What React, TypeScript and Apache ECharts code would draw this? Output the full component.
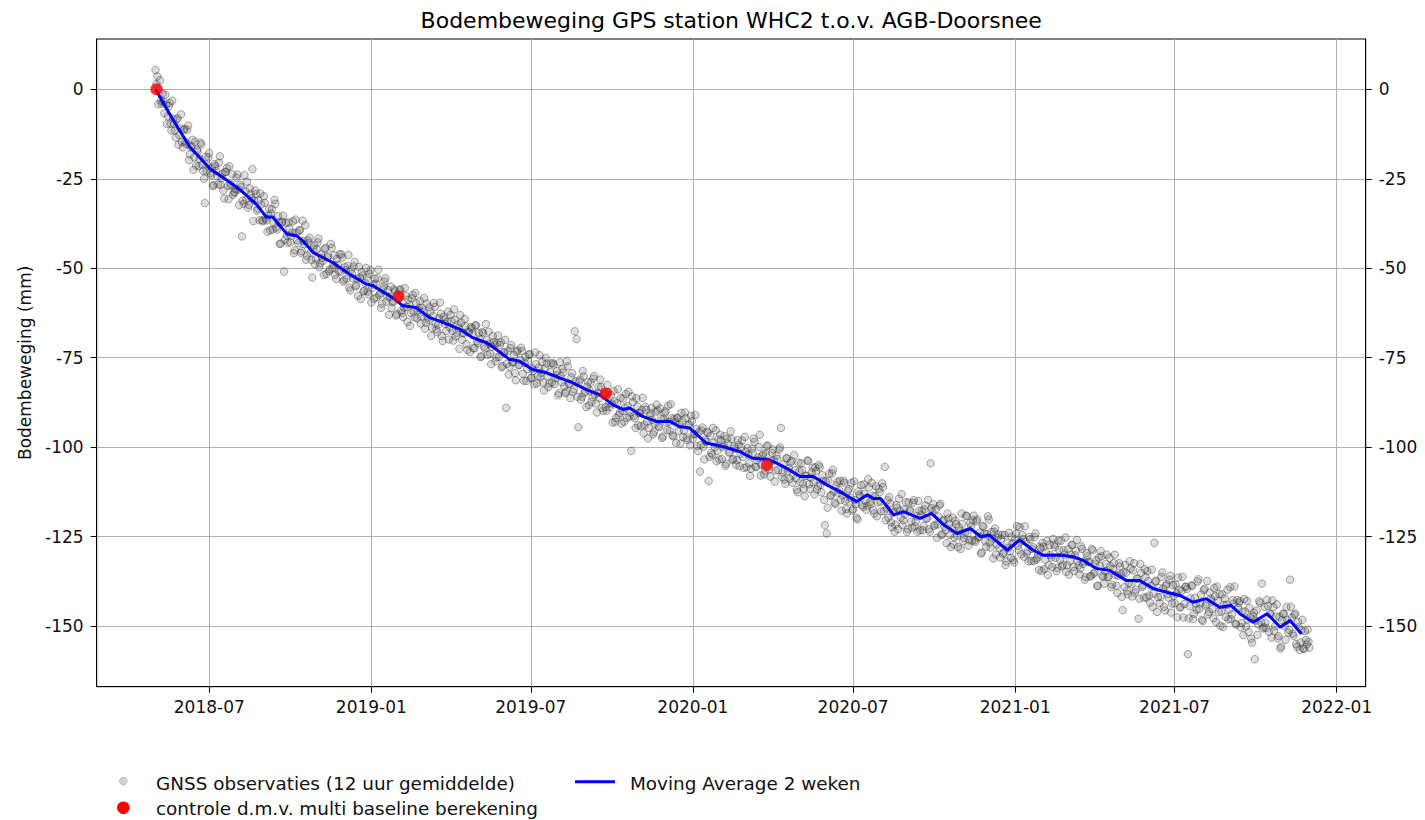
import React, { useEffect, useRef } from 'react';
import * as echarts from 'echarts';

const TITLE = 'Bodembeweging GPS station WHC2 t.o.v. AGB-Doorsnee';
const Y_NAME = 'Bodembeweging (mm)';
const NAME_OBS = 'GNSS observaties (12 uur gemiddelde)';
const NAME_CTRL = 'controle d.m.v. multi baseline berekening';
const NAME_MA = 'Moving Average 2 weken';

const xTickDates = ['2018-07-01', '2019-01-01', '2019-07-01', '2020-01-01', '2020-07-01', '2021-01-01', '2021-07-01', '2022-01-01'];
const yTicks = [-150, -125, -100, -75, -50, -25, 0];
const X_MIN = '2018-02-23T05:00:00Z';
const X_MAX = '2022-02-02T22:00:00Z';
const Y_MIN = -166.9;
const Y_MAX = 14.05;

// GNSS observations: series A every 2 days from obsStartA, series B every 2 days from obsStartB
const obsStepDays = 2;
const obsStartA = '2018-05-01';
const obsValuesA = [
  5.4, 3.6, 0.1, -3.2, -1.2, -6.7, -4.3, -7.5, -3.8, -11.5, -8.2, -11.5, -8.5, -15.5, -10.9,
  -14.7, -11.3, -14.7, -11.3, -19.8, -16.2, -14.1, -19.0, -21.3, -17.4, -19.4, -15.4, -22.8, -31.8, -22.9,
  -19.0, -23.4, -22.0, -26.8, -21.5, -24.3, -20.5, -26.7, -23.6, -30.5, -23.1, -27.0, -21.5, -26.6, -29.5,
  -28.8, -24.7, -28.0, -26.7, -41.1, -32.0, -28.5, -25.8, -32.3, -29.3, -22.3, -31.1, -29.3, -33.4, -36.6,
  -32.2, -36.9, -31.7, -36.6, -35.3, -39.4, -33.5, -37.3, -32.0, -39.2, -37.1, -43.1, -37.0, -50.9, -37.3,
  -42.8, -38.9, -40.9, -36.9, -45.0, -40.0, -43.0, -39.3, -45.2, -42.4, -38.0, -46.5, -42.9, -45.6, -52.6,
  -43.6, -47.5, -42.8, -49.7, -46.1, -47.9, -44.6, -51.6, -46.6, -50.3, -44.3, -49.0, -51.8, -47.4, -50.8,
  -51.0, -47.0, -53.2, -50.5, -49.3, -55.4, -50.4, -52.8, -48.2, -54.7, -57.7, -52.6, -51.1, -56.4, -54.1,
  -52.6, -57.3, -50.5, -55.5, -58.5, -54.3, -52.8, -57.5, -61.1, -56.0, -53.7, -59.3, -56.1, -58.1, -61.1,
  -59.2, -56.4, -62.8, -58.4, -55.9, -62.5, -61.0, -57.7, -65.0, -60.1, -62.5, -57.4, -63.7, -59.7, -61.6,
  -59.1, -63.5, -62.2, -66.9, -59.9, -64.5, -62.1, -66.7, -59.7, -65.5, -67.9, -64.0, -62.7, -70.3, -64.3,
  -67.5, -62.1, -66.5, -64.7, -70.2, -64.4, -68.0, -66.7, -63.1, -70.0, -68.2, -66.2, -72.8, -67.9, -66.4,
  -68.2, -72.4, -65.9, -70.9, -69.7, -74.6, -68.1, -72.4, -70.1, -67.7, -73.9, -72.0, -70.6, -76.0, -70.9,
  -74.8, -70.7, -77.3, -73.6, -89.0, -73.2, -77.5, -71.5, -76.3, -79.3, -73.4, -77.1, -75.6, -73.1, -81.4,
  -74.8, -78.2, -74.1, -80.7, -78.0, -82.4, -76.8, -80.1, -74.3, -79.2, -81.9, -78.0, -76.6, -83.2, -79.0,
  -82.0, -76.9, -80.7, -78.7, -84.9, -80.2, -78.1, -83.0, -84.5, -77.4, -82.4, -80.5, -84.5, -67.6, -69.8,
  -94.4, -81.1, -85.9, -80.2, -84.5, -83.1, -88.3, -82.0, -86.0, -80.1, -87.8, -84.8, -86.2, -83.2, -89.8,
  -85.1, -89.8, -84.6, -88.8, -87.8, -84.3, -92.9, -87.7, -91.0, -86.2, -89.9, -92.9, -85.1, -88.5, -91.4,
  -101.0, -87.4, -91.9, -86.3, -93.9, -90.5, -89.6, -96.1, -88.7, -92.8, -94.6, -90.5, -92.4, -95.8, -90.1,
  -89.7, -94.4, -92.0, -97.0, -90.5, -93.1, -88.4, -95.4, -91.9, -97.0, -93.1, -91.8, -95.4, -99.0, -92.6,
  -95.4, -91.9, -98.0, -93.7, -91.2, -97.6, -96.3, -94.9, -101.1, -106.8, -95.3, -99.9, -97.9, -95.7, -109.4,
  -96.8, -102.1, -98.7, -95.3, -101.0, -103.4, -98.0, -100.0, -96.9, -104.6, -99.0, -101.4, -97.7, -103.3, -100.4,
  -103.6, -99.3, -101.8, -98.1, -105.8, -101.3, -100.2, -104.5, -106.0, -101.7, -98.5, -105.6, -102.9, -96.5, -104.9,
  -101.8, -106.5, -99.7, -104.3, -108.2, -101.6, -103.7, -106.5, -103.3, -100.6, -94.6, -107.0, -109.0, -103.1, -106.7,
  -108.8, -103.8, -107.7, -106.4, -111.9, -104.3, -109.7, -106.4, -111.6, -108.0, -103.7, -110.3, -108.5, -105.7, -113.2,
  -106.7, -110.8, -105.6, -112.6, -109.4, -121.8, -124.1, -109.4, -113.6, -107.3, -112.4, -115.9, -109.7, -111.9, -114.7,
  -113.4, -109.9, -117.3, -112.2, -115.2, -110.0, -117.3, -114.8, -119.7, -112.3, -113.7, -116.2, -110.4, -114.9, -116.4,
  -111.2, -115.9, -113.6, -118.5, -110.9, -115.4, -112.6, -117.9, -111.1, -105.5, -117.1, -119.7, -115.7, -122.3, -118.0,
  -121.6, -116.9, -114.4, -119.6, -121.8, -117.4, -115.4, -122.9, -117.6, -120.8, -115.5, -122.1, -119.3, -115.0, -123.2,
  -117.8, -122.0, -116.3, -119.9, -122.9, -104.5, -118.1, -122.0, -117.3, -121.6, -116.3, -124.6, -120.6, -122.2, -126.8,
  -119.9, -124.5, -122.7, -127.2, -120.5, -124.7, -122.4, -128.4, -121.4, -125.4, -119.1, -124.1, -126.0, -122.1, -120.4,
  -126.0, -120.7, -125.2, -123.8, -129.4, -122.2, -126.3, -124.3, -120.2, -128.0, -125.5, -123.6, -130.0, -125.2, -128.1,
  -125.6, -129.8, -124.5, -131.9, -128.1, -129.1, -125.0, -131.5, -125.7, -122.0, -128.7, -126.4, -124.5, -130.6, -126.5,
  -129.0, -125.1, -131.8, -127.9, -125.1, -131.4, -130.0, -127.8, -134.6, -127.8, -131.4, -126.2, -133.0, -130.1, -133.5,
  -127.2, -130.9, -133.7, -128.7, -126.1, -132.8, -130.0, -134.8, -128.5, -131.8, -127.3, -133.5, -130.2, -125.9, -133.0,
  -133.9, -128.4, -131.9, -136.3, -130.5, -132.0, -135.9, -128.8, -135.0, -131.6, -138.7, -133.1, -130.5, -136.2, -134.6,
  -130.0, -136.2, -133.2, -138.4, -132.4, -135.7, -140.7, -132.4, -135.4, -145.5, -139.1, -135.1, -141.1, -131.8, -138.2,
  -134.4, -140.6, -136.7, -147.9, -132.6, -139.1, -142.0, -136.2, -134.6, -141.4, -138.8, -144.6, -126.7, -137.3, -141.9,
  -143.6, -136.2, -139.5, -145.6, -138.2, -142.0, -135.9, -143.7, -141.5, -138.4, -147.5, -139.8, -144.6, -136.2, -143.8,
  -139.0, -157.8, -144.4, -138.6, -148.0, -142.1, -145.4, -136.9, -143.6, -148.2, -139.9, -144.3, -137.4, -146.0, -142.3,
  -145.2, -139.3, -148.8, -142.9, -141.0, -145.9, -150.2, -142.3, -144.0, -148.1, -139.1, -146.7, -143.7, -149.3, -142.7,
  -143.5, -150.3, -145.9, -142.4, -150.1, -148.1, -144.9, -153.5, -147.1, -159.2, -145.6, -149.5, -143.5, -138.1, -150.3,
  -149.0, -142.6, -151.6, -146.7, -142.8, -151.3, -147.3, -153.4, -147.4, -155.7, -146.5, -150.0, -144.7, -151.8, -137.0,
  -147.6, -152.7, -146.5, -155.7, -150.3, -154.5, -148.2, -156.4, -153.9, -151.0, -156.0,
];
const obsStartB = '2018-05-02';
const obsValuesB = [
  1.4, -4.2, 2.5, -4.0, -3.5, -1.5, -9.7, -4.7, -9.6, -3.2, -9.6, -13.5, -8.1, -12.8, -7.0,
  -16.2, -11.1, -15.3, -10.1, -18.2, -15.9, -22.5, -14.7, -17.0, -21.5, -14.9, -21.1, -25.0, -18.9, -21.3,
  -17.8, -24.0, -27.0, -20.9, -22.9, -26.6, -18.7, -24.8, -28.3, -23.1, -22.0, -30.7, -26.9, -23.7, -28.8,
  -27.9, -23.8, -32.4, -27.3, -31.1, -24.0, -30.8, -33.1, -27.7, -30.4, -36.8, -28.3, -33.9, -31.1, -29.1,
  -36.6, -29.9, -36.1, -39.8, -33.4, -34.8, -39.2, -30.9, -38.6, -35.4, -43.2, -37.3, -35.3, -42.0, -40.9,
  -37.2, -42.8, -40.1, -45.8, -36.4, -42.2, -39.5, -45.7, -36.7, -43.2, -47.6, -42.2, -41.5, -47.7, -44.7,
  -48.9, -44.7, -41.7, -48.6, -47.1, -51.9, -44.3, -47.0, -50.8, -43.2, -50.0, -46.4, -53.0, -49.1, -46.1,
  -46.1, -53.7, -49.7, -52.9, -46.3, -56.2, -51.6, -49.5, -55.1, -53.0, -49.6, -58.6, -52.0, -56.3, -49.9,
  -56.5, -51.6, -59.6, -54.5, -52.9, -58.1, -50.4, -57.0, -59.9, -55.1, -52.8, -57.9, -63.0, -55.1, -59.5,
  -55.9, -63.2, -58.4, -56.1, -61.8, -63.6, -55.5, -60.8, -58.8, -66.1, -58.4, -62.1, -56.9, -64.0, -61.1,
  -65.4, -61.1, -58.3, -65.2, -63.8, -60.9, -68.9, -63.3, -60.8, -67.1, -65.7, -59.6, -68.9, -63.6, -65.6,
  -65.0, -69.9, -63.0, -67.5, -61.5, -69.0, -65.7, -72.5, -65.2, -68.0, -64.2, -71.2, -67.7, -73.4, -66.8,
  -72.3, -66.0, -70.4, -68.1, -74.8, -67.8, -71.9, -65.6, -74.2, -71.1, -76.8, -68.9, -71.3, -74.9, -68.8,
  -71.4, -77.7, -73.5, -70.0, -76.7, -79.7, -72.3, -76.2, -74.3, -81.3, -73.0, -77.0, -72.2, -79.5, -76.4,
  -81.5, -76.0, -74.0, -80.6, -78.6, -73.5, -82.2, -77.8, -80.4, -76.2, -84.1, -75.0, -80.2, -82.2, -76.6,
  -76.5, -82.4, -79.9, -85.5, -76.3, -81.8, -79.1, -84.9, -76.0, -82.3, -86.3, -79.3, -83.8, -81.6, -85.9,
  -81.7, -86.7, -78.7, -84.8, -88.8, -81.8, -84.2, -87.3, -80.8, -85.3, -90.3, -83.2, -81.1, -89.0, -85.5,
  -88.8, -82.6, -87.7, -85.4, -93.1, -87.2, -91.8, -83.8, -90.4, -93.4, -86.4, -88.9, -91.8, -84.5, -90.3,
  -85.8, -91.3, -94.6, -88.6, -90.4, -94.1, -86.2, -93.8, -89.5, -97.5, -91.3, -89.0, -96.4, -93.4, -88.1,
  -94.1, -89.2, -97.4, -92.1, -90.0, -95.2, -92.9, -88.0, -96.7, -92.1, -98.8, -91.8, -93.7, -90.4, -97.1,
  -90.3, -97.4, -93.7, -99.5, -92.7, -96.4, -91.0, -99.7, -95.7, -99.4, -94.5, -103.4, -98.5, -96.0, -102.7,
  -101.6, -94.6, -100.0, -103.9, -97.8, -96.5, -103.3, -99.5, -105.2, -97.6, -101.5, -95.5, -103.5, -99.8, -104.9,
  -98.0, -105.3, -100.0, -102.7, -97.1, -105.6, -102.1, -108.0, -100.4, -97.6, -105.4, -103.6, -99.9, -107.9, -102.3,
  -107.6, -101.9, -99.5, -106.1, -103.8, -100.6, -109.6, -102.3, -106.4, -100.0, -108.3, -104.8, -110.2, -103.1, -105.9,
  -104.3, -109.9, -102.2, -108.7, -112.6, -106.7, -104.5, -110.2, -113.7, -108.0, -103.8, -111.7, -107.0, -109.8, -105.6,
  -111.8, -104.9, -110.5, -107.8, -114.7, -109.6, -116.9, -107.4, -113.4, -106.3, -115.5, -110.6, -112.7, -109.4, -117.7,
  -109.4, -115.0, -118.5, -111.7, -114.1, -117.7, -109.5, -115.9, -120.2, -113.2, -110.6, -116.7, -113.0, -117.5, -108.9,
  -115.3, -110.0, -117.6, -113.7, -119.3, -111.6, -115.2, -110.1, -117.9, -120.4, -114.8, -113.9, -121.0, -118.4, -123.6,
  -116.2, -122.9, -117.8, -113.1, -120.4, -118.8, -123.7, -115.4, -117.8, -122.5, -114.8, -120.8, -123.6, -117.7, -119.0,
  -123.2, -117.4, -119.9, -114.7, -123.6, -117.0, -115.9, -121.6, -125.3, -119.4, -115.8, -124.3, -120.3, -123.1, -118.5,
  -121.5, -127.9, -119.7, -125.2, -121.5, -127.9, -123.5, -118.5, -126.2, -123.8, -119.2, -127.5, -121.1, -126.2, -119.1,
  -126.4, -120.2, -125.0, -129.7, -122.0, -124.1, -127.8, -119.3, -126.6, -123.7, -131.1, -122.7, -127.2, -124.4, -130.8,
  -124.5, -129.5, -132.9, -126.8, -123.9, -130.9, -126.9, -132.2, -124.2, -127.5, -122.3, -129.9, -125.6, -122.1, -129.7,
  -131.9, -125.7, -128.4, -131.8, -124.1, -130.9, -134.3, -128.2, -126.7, -134.0, -129.4, -135.7, -127.3, -130.8, -125.6,
  -127.9, -134.6, -126.1, -131.5, -133.3, -128.8, -125.2, -133.0, -135.6, -130.0, -127.3, -134.6, -129.0, -131.8, -135.5,
  -127.7, -132.6, -137.0, -129.6, -132.1, -136.1, -128.4, -135.4, -132.6, -138.8, -130.8, -129.0, -135.9, -138.1, -132.6,
  -136.3, -130.9, -139.1, -134.0, -130.0, -138.7, -135.9, -133.3, -141.8, -135.0, -132.9, -140.1, -137.9, -133.9, -141.7,
  -132.4, -139.8, -136.8, -142.3, -135.1, -138.6, -134.1, -142.0, -137.4, -143.4, -134.2, -140.9, -137.5, -146.0, -139.3,
  -141.8, -135.0, -144.6, -138.7, -141.0, -137.0, -146.2, -138.5, -143.6, -140.8, -136.4, -144.8, -140.1, -147.6, -138.9,
  -139.6, -147.8, -142.2, -138.8, -146.5, -143.7, -137.5, -145.2, -141.2, -148.6, -139.5, -143.9, -146.7, -140.6, -142.9,
  -147.8, -141.6, -138.9, -146.0, -149.9, -141.1, -144.1, -147.4, -139.8, -145.3, -148.0, -142.7, -138.9, -149.5, -144.9,
  -143.0, -149.1, -152.5, -145.9, -142.9, -151.6, -147.4, -154.6, -146.2, -148.4, -152.4, -143.0, -148.9, -150.6, -144.6,
  -150.5, -144.3, -146.5, -153.2, -144.7, -150.0, -143.9, -152.8, -156.2, -148.3, -146.6, -153.8, -148.3, -151.0, -144.6,
  -152.1, -146.8, -155.0, -148.8, -156.6, -151.2, -156.2, -151.4, -155.1, -154.3,
];

// 2-week moving average
const maDates = [
  '2018-05-01', '2018-05-21', '2018-06-09', '2018-07-02', '2018-07-24', '2018-08-08', '2018-08-23', '2018-09-04',
  '2018-09-11', '2018-09-27', '2018-10-08', '2018-10-15', '2018-10-27', '2018-11-18', '2018-12-07', '2018-12-26',
  '2019-01-03', '2019-01-25', '2019-02-06', '2019-02-21', '2019-03-08', '2019-03-19', '2019-04-11', '2019-04-26',
  '2019-05-12', '2019-05-23', '2019-06-07', '2019-06-18', '2019-07-03', '2019-07-19', '2019-08-03', '2019-08-18',
  '2019-09-02', '2019-09-17', '2019-10-02', '2019-10-14', '2019-10-21', '2019-11-05', '2019-11-21', '2019-12-06',
  '2019-12-17', '2019-12-28', '2020-01-16', '2020-02-04', '2020-02-23', '2020-03-09', '2020-03-28', '2020-04-13',
  '2020-05-02', '2020-05-17', '2020-06-01', '2020-06-16', '2020-07-05', '2020-07-17', '2020-07-24', '2020-08-01',
  '2020-08-16', '2020-08-27', '2020-09-15', '2020-09-28', '2020-10-12', '2020-10-27', '2020-11-11', '2020-11-23',
  '2020-12-02', '2020-12-23', '2021-01-06', '2021-01-21', '2021-02-02', '2021-02-21', '2021-03-08', '2021-03-19',
  '2021-04-03', '2021-04-18', '2021-05-07', '2021-05-22', '2021-06-07', '2021-06-22', '2021-07-07', '2021-07-22',
  '2021-08-06', '2021-08-21', '2021-09-03', '2021-09-13', '2021-09-28', '2021-10-14', '2021-10-29', '2021-11-09',
  '2021-11-22',
];
const maValues = [
  0, -8.6, -16.1, -22.2, -25.9, -28.7, -32.0, -35.7,
  -35.7, -40.4, -40.9, -42.3, -45.6, -48.4, -51.6, -54.4,
  -54.9, -58.2, -60.5, -61.0, -63.8, -64.7, -67.0, -69.4,
  -70.8, -72.7, -75.5, -75.9, -78.3, -79.2, -80.6, -82.0,
  -83.9, -85.3, -88.1, -89.5, -89.0, -91.4, -92.8, -92.8,
  -94.2, -94.6, -98.8, -99.8, -101.2, -103.1, -103.5, -105.4,
  -108.2, -108.2, -110.5, -112.4, -115.2, -113.3, -114.3, -114.3,
  -118.9, -118.0, -119.9, -118.5, -121.7, -124.1, -122.7, -125.0,
  -124.5, -128.7, -125.9, -128.7, -130.2, -130.1, -130.6, -131.6,
  -133.9, -134.4, -137.2, -137.2, -139.5, -140.5, -141.4, -143.3,
  -142.3, -144.7, -144.2, -146.5, -148.9, -146.5, -150.3, -148.4,
  -152.1,
];

// control measurements (multi baseline)
const ctrlDates = ['2018-05-02', '2019-02-01', '2019-09-24', '2020-03-25'];
const ctrlValues = [0, -57.8, -85.0, -105.0];

const DAY = 86400000;
const ms = (s: string) => Date.parse(s.length === 10 ? s + 'T00:00:00Z' : s);
const fmtMonth = (v: number) => {
  const d = new Date(v);
  const m = d.getUTCMonth() + 1;
  return d.getUTCFullYear() + '-' + (m < 10 ? '0' + m : '' + m);
};

const FONT = 'DejaVu Sans';

export default function App() {
  const ref = useRef<HTMLDivElement>(null);
  useEffect(() => {
    if (!ref.current) return;
    const chart = echarts.init(ref.current, null, { renderer: 'svg' });
    const tA = ms(obsStartA);
    const tB = ms(obsStartB);
    const obsData = [
      ...obsValuesA.map((v, i) => [tA + i * obsStepDays * DAY, v]),
      ...obsValuesB.map((v, i) => [tB + i * obsStepDays * DAY, v]),
    ];
    const maData = maDates.map((d, i) => [ms(d), maValues[i]]);
    const ctrlData = ctrlDates.map((d, i) => [ms(d), ctrlValues[i]]);
    const xTicks = xTickDates.map(ms);

    const yAxisBase = {
      type: 'value',
      min: Y_MIN,
      max: Y_MAX,
      axisLine: { show: true, lineStyle: { color: '#000', width: 1 } },
      axisTick: { show: true, customValues: yTicks, length: 6, lineStyle: { color: '#000', width: 1 } },
      axisLabel: {
        customValues: yTicks,
        fontFamily: FONT,
        fontSize: 17,
        color: '#111',
        margin: 13,
      },
    };

    const legendText = (text: string, x: number, y: number) => ({
      type: 'text',
      x,
      y,
      style: {
        text,
        textAlign: 'left',
        textVerticalAlign: 'middle',
        fontFamily: FONT,
        fontSize: 18.4,
        fill: '#111',
      },
    });

    chart.setOption({
      animation: false,
      backgroundColor: '#fff',
      grid: {
        left: 96.7,
        right: 59.3,
        top: 39,
        bottom: 133.3,
        show: true,
        borderColor: '#000',
        borderWidth: 1,
        backgroundColor: 'transparent',
      },
      graphic: [
        {
          type: 'text',
          x: 731.2,
          y: 20.5,
          style: {
            text: TITLE,
            textAlign: 'center',
            textVerticalAlign: 'middle',
            fontFamily: FONT,
            fontSize: 22,
            fill: '#000',
          },
        },
        {
          type: 'circle',
          shape: { cx: 123.3, cy: 781, r: 3.8 },
          style: { fill: '#d2d2d2', stroke: '#bcbcbc', lineWidth: 1 },
        },
        legendText(NAME_OBS, 156, 783.3),
        {
          type: 'circle',
          shape: { cx: 123.3, cy: 807.7, r: 6.3 },
          style: { fill: '#ff0000' },
        },
        legendText(NAME_CTRL, 156, 808.4),
        {
          type: 'line',
          shape: { x1: 575, y1: 781.7, x2: 615, y2: 781.7 },
          style: { stroke: '#0000ff', lineWidth: 3 },
        },
        legendText(NAME_MA, 630, 783.3),
      ],
      xAxis: {
        type: 'value',
        min: ms(X_MIN),
        max: ms(X_MAX),
        axisLine: { show: true, onZero: false, lineStyle: { color: '#000', width: 1 } },
        axisTick: { show: true, customValues: xTicks, length: 6, lineStyle: { color: '#000', width: 1 } },
        axisLabel: {
          customValues: xTicks,
          formatter: (v: number) => fmtMonth(v),
          fontFamily: FONT,
          fontSize: 17,
          color: '#111',
          margin: 12,
        },
        splitLine: { show: true, lineStyle: { color: '#b0b0b0', width: 1 } },
      },
      yAxis: [
        {
          ...yAxisBase,
          position: 'left',
          name: Y_NAME,
          nameLocation: 'middle',
          nameGap: 63,
          nameTextStyle: { fontFamily: FONT, fontSize: 17, color: '#111' },
          splitLine: { show: true, lineStyle: { color: '#b0b0b0', width: 1 } },
        },
        {
          ...yAxisBase,
          position: 'right',
          splitLine: { show: false },
        },
      ],
      series: [
        {
          name: NAME_OBS,
          type: 'scatter',
          data: obsData,
          symbol: 'circle',
          symbolSize: 7.5,
          itemStyle: {
            color: 'rgba(80,80,80,0.24)',
            borderColor: 'rgba(40,40,40,0.48)',
            borderWidth: 1,
          },
          z: 2,
        },
        {
          name: NAME_MA,
          type: 'line',
          data: maData,
          showSymbol: false,
          symbol: 'none',
          lineStyle: { color: '#0000ff', width: 3 },
          itemStyle: { color: '#0000ff' },
          z: 3,
        },
        {
          name: NAME_CTRL,
          type: 'scatter',
          data: ctrlData,
          symbol: 'circle',
          symbolSize: 12,
          itemStyle: { color: '#ff0000' },
          z: 4,
        },
      ],
    });
    return () => chart.dispose();
  }, []);
  return <div ref={ref} style={{ position: 'absolute', left: 0, top: 0, width: 1425, height: 820 }} />;
}
